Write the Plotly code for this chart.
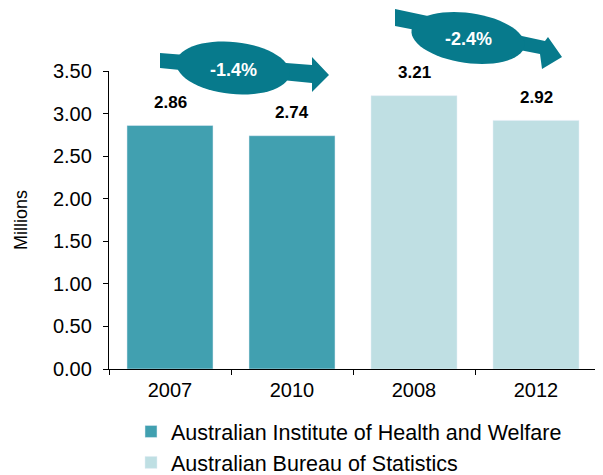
import math
import plotly.graph_objects as go

categories = ["2007", "2010", "2008", "2012"]
aihw_years = ["2007", "2010"]
aihw_values = [2.86, 2.74]
abs_years = ["2008", "2012"]
abs_values = [3.21, 2.92]
value_labels = ["2.86", "2.74", "3.21", "2.92"]
all_values = [2.86, 2.74, 3.21, 2.92]
change_labels = ["-1.4%", "-2.4%"]
y_ticks = [0, 0.5, 1, 1.5, 2, 2.5, 3, 3.5]
y_tick_text = ["0.00", "0.50", "1.00", "1.50", "2.00", "2.50", "3.00", "3.50"]

# page body has an 8px margin: figure is drawn at (8, 8) in the window
OFF = 8
W, H = 603 - OFF, 475 - OFF
L, R, T, B = 109 - OFF, 6, 71 - OFF, 106
PW, PH = W - L - R, H - T - B

DARK = "#41a0b0"
LIGHT = "#bfdfe3"
ARROW = "#077a8c"
FONT = "Liberation Sans, Arial, sans-serif"


def px(x, y):
    """screen pixel -> paper coords"""
    x, y = x - OFF, y - OFF
    return (x - L) / PW, (H - B - y) / PH


def poly_path(points):
    pts = [px(x, y) for x, y in points]
    return "M " + " L ".join(f"{a:.5f},{b:.5f}" for a, b in pts) + " Z"


def ellipse_path(cx, cy, rx, ry, deg, n=60):
    th = math.radians(deg)
    pts = []
    for i in range(n):
        t = 2 * math.pi * i / n
        x0, y0 = rx * math.cos(t), ry * math.sin(t)
        pts.append((cx + x0 * math.cos(th) - y0 * math.sin(th),
                    cy + x0 * math.sin(th) + y0 * math.cos(th)))
    return poly_path(pts)


fig = go.Figure()
fig.add_trace(go.Bar(x=aihw_years, y=aihw_values, marker_color=DARK,
                     name="Australian Institute of Health and Welfare"))
fig.add_trace(go.Bar(x=abs_years, y=abs_values, marker_color=LIGHT,
                     name="Australian Bureau of Statistics"))

arrows = [
    dict(poly=[(160, 53), (312, 65), (312, 57), (329, 75), (312, 92), (312, 83), (160, 68)],
         ell=(233, 68, 57, 26, 6), text=(233, 70)),
    dict(poly=[(395, 9), (545, 41), (548, 37), (562, 57), (542, 69), (540, 54), (395, 26)],
         ell=(468, 38, 57, 25, 8), text=(468, 39)),
]
shapes = []
annotations = []
for a, lab in zip(arrows, change_labels):
    shapes.append(dict(type="path", xref="paper", yref="paper", path=poly_path(a["poly"]),
                       fillcolor=ARROW, line=dict(width=0), layer="above"))
    shapes.append(dict(type="path", xref="paper", yref="paper", path=ellipse_path(*a["ell"]),
                       fillcolor=ARROW, line=dict(width=0), layer="above"))
    tx, ty = px(*a["text"])
    annotations.append(dict(x=tx, y=ty, xref="paper", yref="paper", text=f"<b>{lab}</b>",
                            xanchor="center", yanchor="middle",
                            showarrow=False, font=dict(family=FONT, size=18, color="white")))

for i, (v, t) in enumerate(zip(all_values, value_labels)):
    annotations.append(dict(x=i, y=v, xref="x", yref="y", text=f"<b>{t}</b>", showarrow=False,
                            yshift=23, font=dict(family=FONT, size=17, color="black")))

lx, ly = px(131, 411)
fig.update_layout(
    width=W, height=H,
    margin=dict(l=L, r=R, t=T, b=B, autoexpand=False),
    paper_bgcolor="white", plot_bgcolor="white",
    barmode="overlay", bargap=0.295,
    font=dict(family=FONT, size=20, color="black"),
    shapes=shapes, annotations=annotations,
    legend=dict(x=lx, y=ly, xanchor="left", yanchor="top",
                orientation="v", font=dict(size=21.5), tracegroupgap=0,
                bgcolor="rgba(0,0,0,0)"),
    showlegend=True,
)
fig.update_xaxes(type="category", categoryorder="array", categoryarray=categories,
                 range=[-0.5, 3.5],
                 showline=True, linecolor="black", linewidth=1.3, ticks="outside",
                 tickson="boundaries", ticklen=5, tickcolor="black", showgrid=False,
                 ticklabelstandoff=3,
                 tickfont=dict(size=20))
fig.update_yaxes(range=[0, 3.5], tickvals=y_ticks, ticktext=y_tick_text,
                 showline=True, linecolor="black", linewidth=1.3, ticks="outside",
                 ticklen=5, tickcolor="black", showgrid=False, zeroline=False,
                 ticklabelstandoff=7,
                 tickfont=dict(size=20),
                 title=dict(text="Millions", font=dict(size=18), standoff=20))

fig.write_html("out.html")
